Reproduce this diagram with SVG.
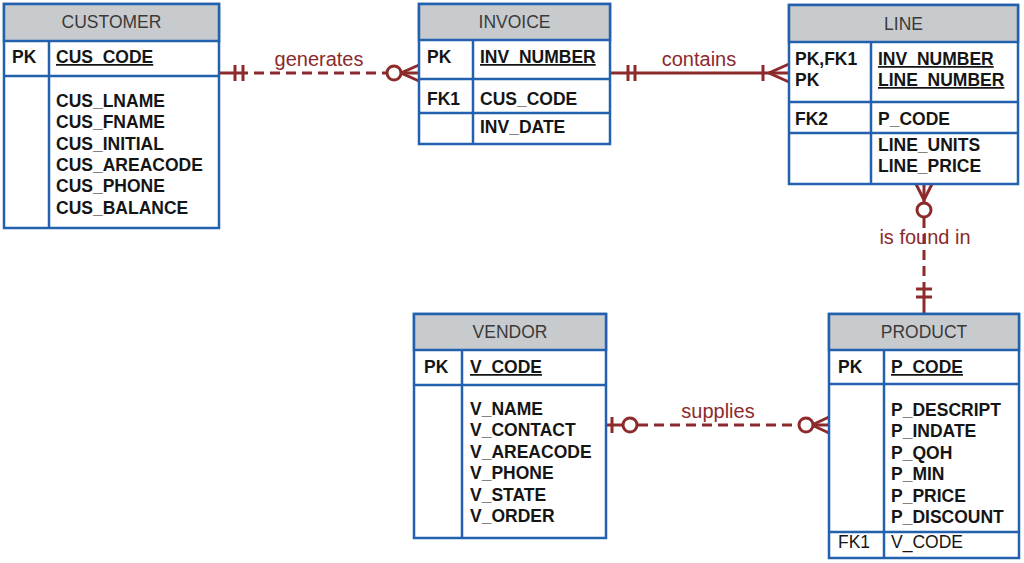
<svg xmlns="http://www.w3.org/2000/svg" width="1024" height="563" viewBox="0 0 1024 563">
<style>
.box{fill:#fff;stroke:#2360ad;stroke-width:2.5}
.hdr{fill:#c8cbce;stroke:#2360ad;stroke-width:2.5}
.ln{stroke:#2360ad;stroke-width:2.5;fill:none}
.ht{font-family:"Liberation Sans",Arial,sans-serif;font-size:17.5px;fill:#3a3a3a;text-anchor:middle}
.t{font-family:"Liberation Sans",Arial,sans-serif;font-size:17.5px;font-weight:bold;fill:#151515}
.r{font-family:"Liberation Sans",Arial,sans-serif;font-size:17.5px;fill:#151515}
.u{text-decoration:underline}
.c{stroke:#8c2a2c;stroke-width:3;fill:none}
.d{stroke-dasharray:10 6}
.o{stroke:#8c2a2c;stroke-width:3;fill:#fff}
.lab{font-family:"Liberation Sans",Arial,sans-serif;font-size:20px;fill:#8c2a2c;text-anchor:middle}
</style>

<g id="connectors">
  <g id="rel-generates">
    <line class="c" x1="219" y1="73" x2="248" y2="73"/>
    <line class="c d" x1="254" y1="73" x2="386" y2="73"/>
    <line class="c" x1="235" y1="65" x2="235" y2="81"/>
    <line class="c" x1="243" y1="65" x2="243" y2="81"/>
    <polyline class="c" points="419,65 401,73 419,81"/>
    <line class="c" x1="401" y1="73" x2="419" y2="73"/>
    <circle class="o" cx="394" cy="73" r="7"/>
    <text class="lab" x="319" y="66">generates</text>
  </g>
  <g id="rel-contains">
    <line class="c" x1="610" y1="73" x2="789" y2="73"/>
    <line class="c" x1="628" y1="65" x2="628" y2="81"/>
    <line class="c" x1="635" y1="65" x2="635" y2="81"/>
    <line class="c" x1="763" y1="65" x2="763" y2="81"/>
    <polyline class="c" points="789,64 769,73 789,82"/>
    <text class="lab" x="699" y="66">contains</text>
  </g>
  <g id="rel-isfoundin">
    <line class="c" x1="924" y1="184" x2="924" y2="203"/>
    <polyline class="c" points="916,184 924,200 932,184"/>
    <line class="c d" x1="924" y1="218" x2="924" y2="282"/>
    <line class="c" x1="924" y1="282" x2="924" y2="314"/>
    <line class="c" x1="916" y1="289" x2="932" y2="289"/>
    <line class="c" x1="916" y1="297" x2="932" y2="297"/>
    <circle class="o" cx="924" cy="210" r="7"/>
    <text class="lab" x="925" y="244">is found in</text>
  </g>
  <g id="rel-supplies">
    <line class="c" x1="606" y1="425" x2="622" y2="425"/>
    <line class="c d" x1="638" y1="425" x2="798" y2="425"/>
    <line class="c" x1="612" y1="417" x2="612" y2="433"/>
    <circle class="o" cx="630" cy="425" r="7"/>
    <polyline class="c" points="829,417 812,425 829,433"/>
    <line class="c" x1="812" y1="425" x2="829" y2="425"/>
    <circle class="o" cx="806" cy="425" r="7"/>
    <text class="lab" x="718" y="418">supplies</text>
  </g>
</g>

<g id="customer">
  <rect class="box" x="4" y="4" width="215" height="224"/>
  <rect class="hdr" x="4" y="4" width="215" height="37"/>
  <line class="ln" x1="4" y1="76" x2="219" y2="76"/>
  <line class="ln" x1="49" y1="41" x2="49" y2="228"/>
  <text class="ht" x="111.5" y="28">CUSTOMER</text>
  <text class="t" x="12" y="63">PK</text>
  <text class="t u" x="56" y="63">CUS_CODE</text>
  <text class="t" x="56" y="107">CUS_LNAME</text>
  <text class="t" x="56" y="128">CUS_FNAME</text>
  <text class="t" x="56" y="150">CUS_INITIAL</text>
  <text class="t" x="56" y="171">CUS_AREACODE</text>
  <text class="t" x="56" y="192">CUS_PHONE</text>
  <text class="t" x="56" y="214">CUS_BALANCE</text>
</g>

<g id="invoice">
  <rect class="box" x="419" y="4" width="191" height="140"/>
  <rect class="hdr" x="419" y="4" width="191" height="36"/>
  <line class="ln" x1="419" y1="79" x2="610" y2="79"/>
  <line class="ln" x1="419" y1="113" x2="610" y2="113"/>
  <line class="ln" x1="473" y1="40" x2="473" y2="144"/>
  <text class="ht" x="514.5" y="28">INVOICE</text>
  <text class="t" x="427" y="63">PK</text>
  <text class="t u" x="480" y="63">INV_NUMBER</text>
  <text class="t" x="427" y="105">FK1</text>
  <text class="t" x="480" y="105">CUS_CODE</text>
  <text class="t" x="480" y="133">INV_DATE</text>
</g>

<g id="line">
  <rect class="box" x="789" y="5" width="229" height="179"/>
  <rect class="hdr" x="789" y="5" width="229" height="37"/>
  <line class="ln" x1="789" y1="102" x2="1018" y2="102"/>
  <line class="ln" x1="789" y1="133" x2="1018" y2="133"/>
  <line class="ln" x1="871" y1="42" x2="871" y2="184"/>
  <text class="ht" x="903.5" y="30">LINE</text>
  <text class="t" x="795" y="65">PK,FK1</text>
  <text class="t" x="795" y="86">PK</text>
  <text class="t u" x="878" y="65">INV_NUMBER</text>
  <text class="t u" x="878" y="86">LINE_NUMBER</text>
  <text class="t" x="795" y="125">FK2</text>
  <text class="t" x="878" y="125">P_CODE</text>
  <text class="t" x="878" y="151">LINE_UNITS</text>
  <text class="t" x="878" y="172">LINE_PRICE</text>
</g>

<g id="vendor">
  <rect class="box" x="414" y="314" width="192" height="224"/>
  <rect class="hdr" x="414" y="314" width="192" height="36"/>
  <line class="ln" x1="414" y1="385" x2="606" y2="385"/>
  <line class="ln" x1="462" y1="350" x2="462" y2="538"/>
  <text class="ht" x="510" y="338">VENDOR</text>
  <text class="t" x="424" y="373">PK</text>
  <text class="t u" x="470" y="373">V_CODE</text>
  <text class="t" x="470" y="415">V_NAME</text>
  <text class="t" x="470" y="436">V_CONTACT</text>
  <text class="t" x="470" y="458">V_AREACODE</text>
  <text class="t" x="470" y="479">V_PHONE</text>
  <text class="t" x="470" y="501">V_STATE</text>
  <text class="t" x="470" y="522">V_ORDER</text>
</g>

<g id="product">
  <rect class="box" x="829" y="314" width="190" height="244"/>
  <rect class="hdr" x="829" y="314" width="190" height="36"/>
  <line class="ln" x1="829" y1="384" x2="1019" y2="384"/>
  <line class="ln" x1="829" y1="532" x2="1019" y2="532"/>
  <line class="ln" x1="884" y1="350" x2="884" y2="558"/>
  <text class="ht" x="924" y="338">PRODUCT</text>
  <text class="t" x="838" y="373">PK</text>
  <text class="t u" x="891" y="373">P_CODE</text>
  <text class="t" x="891" y="416">P_DESCRIPT</text>
  <text class="t" x="891" y="437">P_INDATE</text>
  <text class="t" x="891" y="459">P_QOH</text>
  <text class="t" x="891" y="480">P_MIN</text>
  <text class="t" x="891" y="502">P_PRICE</text>
  <text class="t" x="891" y="523">P_DISCOUNT</text>
  <text class="r" x="838" y="548">FK1</text>
  <text class="r" x="891" y="548">V_CODE</text>
</g>
</svg>
